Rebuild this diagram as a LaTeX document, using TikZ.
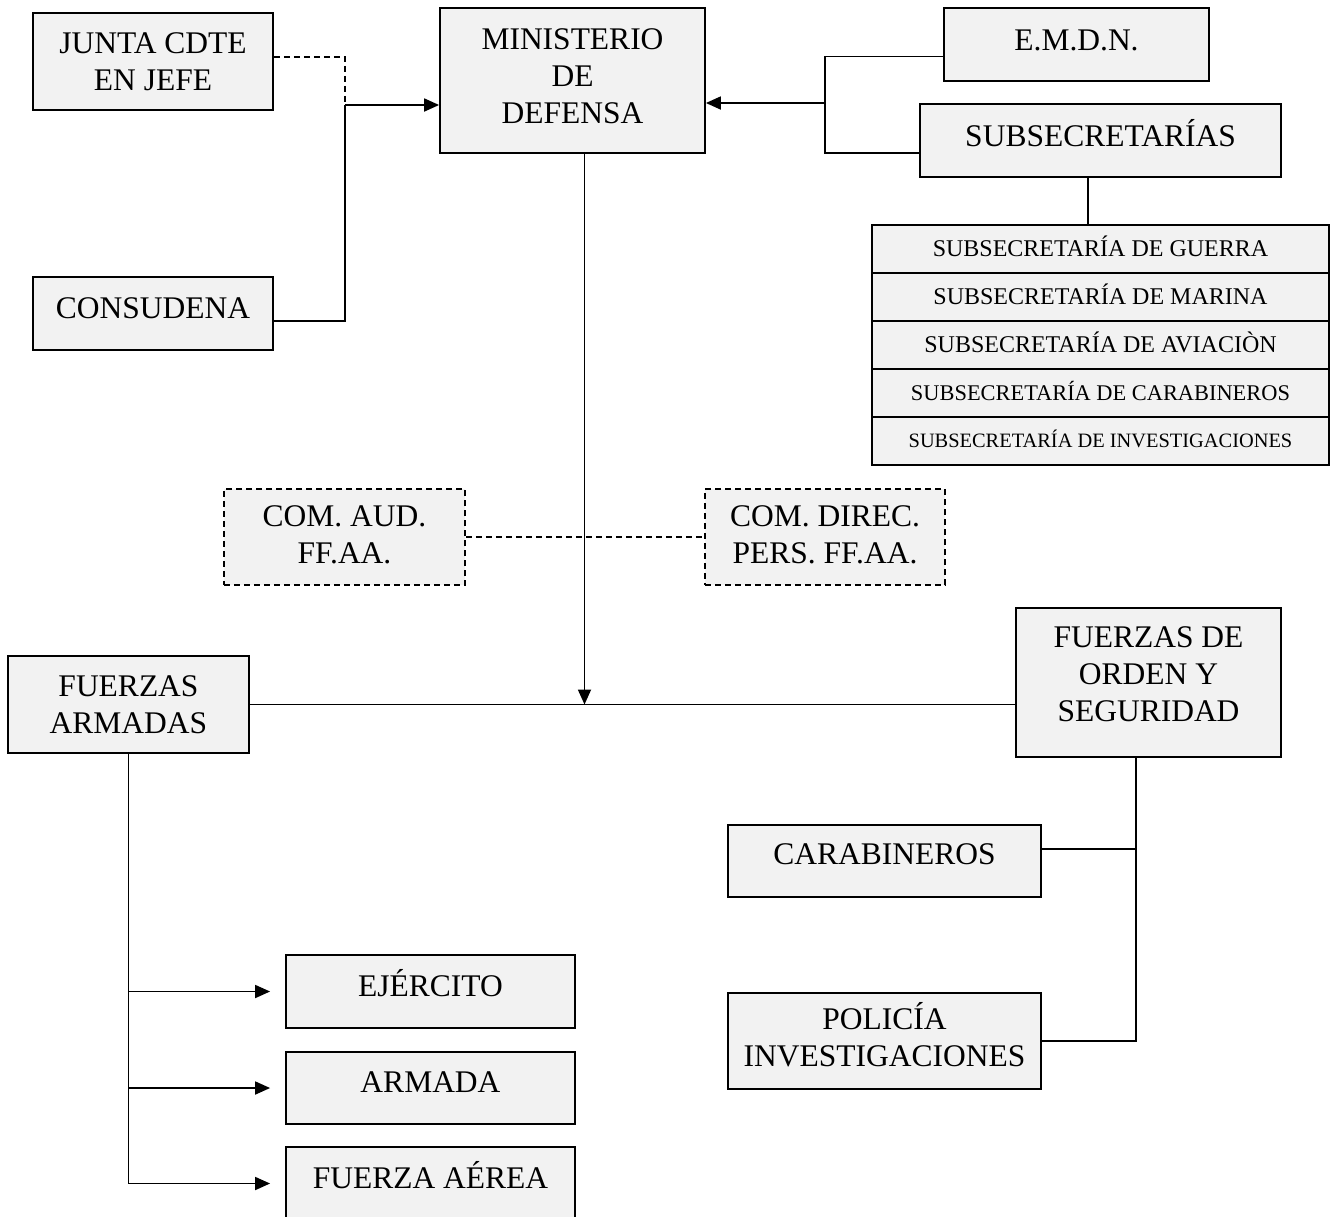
\documentclass[tikz,border=0pt]{standalone}
\usepackage{fontspec}
\setmainfont{Liberation Serif}
\usetikzlibrary{arrows.meta}
\definecolor{boxgray}{HTML}{F2F2F2}
\begin{document}
\begin{tikzpicture}[x=1pt,y=-1pt,
  box/.style={draw, line width=1.8pt, fill=boxgray, inner sep=0pt, rectangle},
  dbox/.style={box, line width=1.5pt, dash pattern=on 6pt off 4pt},
  rowbox/.style={box, minimum width=457pt, minimum height=48pt},
  lbl/.style={font=\fontsize{31.5}{37}\selectfont, align=center, inner sep=0pt},
  lblone/.style={lbl, text height=21pt, text depth=0pt},
  rowlbl/.style={inner sep=0pt, text depth=0pt},
  conn/.style={line width=1.8pt},
  dline/.style={line width=1.5pt, dash pattern=on 6pt off 4pt},
  arr/.style={conn, -{Triangle[length=15pt,width=13pt]}}
]
\useasboundingbox (0,0) rectangle (1336,1216);

% boxes
\node[box, minimum width=240pt, minimum height=97pt,
  label={[lbl]center:{JUNTA CDTE\\EN JEFE}}] (junta) at (153,61.5) {};
\node[box, minimum width=240pt, minimum height=73pt,
  label={[lblone, yshift=6]center:{CONSUDENA}}] (consudena) at (153,313.5) {};
\node[box, minimum width=265pt, minimum height=145pt,
  label={[lbl, yshift=4.5]center:{MINISTERIO\\DE\\DEFENSA}}] (ministerio) at (572.5,80.5) {};
\node[box, minimum width=265pt, minimum height=73pt,
  label={[lblone, yshift=4.5]center:{E.M.D.N.}}] (emdn) at (1076.5,44.5) {};
\node[box, minimum width=361pt, minimum height=73pt,
  label={[lblone, yshift=4.5]center:{SUBSECRETARÍAS}}] (subs) at (1100.5,140.5) {};

\node[rowbox, label={[rowlbl, font=\fontsize{24}{28}\selectfont, text height=15.9pt]center:{SUBSECRETARÍA DE GUERRA}}] (row1) at (1100.5,249) {};
\node[rowbox, label={[rowlbl, font=\fontsize{24}{28}\selectfont, text height=15.9pt]center:{SUBSECRETARÍA DE MARINA}}] (row2) at (1100.5,297) {};
\node[rowbox, label={[rowlbl, font=\fontsize{24}{28}\selectfont, text height=15.9pt]center:{SUBSECRETARÍA DE AVIACIÒN}}] (row3) at (1100.5,345) {};
\node[rowbox, label={[rowlbl, font=\fontsize{22.4}{26}\selectfont, text height=14.8pt]center:{SUBSECRETARÍA DE CARABINEROS}}] (row4) at (1100.5,393) {};
\node[rowbox, label={[rowlbl, font=\fontsize{20.4}{24}\selectfont, text height=13.5pt]center:{SUBSECRETARÍA DE INVESTIGACIONES}}] (row5) at (1100.5,441) {};

\node[dbox, minimum width=241pt, minimum height=96pt,
  label={[lbl, yshift=2.5]center:{COM. AUD.\\FF.AA.}}] (comaud) at (344.5,537) {};
\node[dbox, minimum width=240pt, minimum height=96pt,
  label={[lbl, yshift=2.5]center:{COM. DIREC.\\PERS. FF.AA.}}] (comdir) at (825,537) {};

\node[box, minimum width=241pt, minimum height=97pt,
  label={[lbl]center:{FUERZAS\\ARMADAS}}] (fa) at (128.5,704.5) {};
\node[box, minimum width=265pt, minimum height=149pt,
  label={[lbl, yshift=8]center:{FUERZAS DE\\ORDEN Y\\SEGURIDAD}}] (fos) at (1148.5,682.5) {};

\node[box, minimum width=289pt, minimum height=73pt,
  label={[lblone, yshift=6]center:{EJÉRCITO}}] (ejer) at (430.5,991.5) {};
\node[box, minimum width=289pt, minimum height=72pt,
  label={[lblone, yshift=6]center:{ARMADA}}] (armada) at (430.5,1088) {};
\node[box, minimum width=289pt, minimum height=73pt,
  label={[lblone, yshift=6]center:{FUERZA AÉREA}}] (faerea) at (430.5,1183.5) {};

\node[box, minimum width=313pt, minimum height=72pt,
  label={[lblone, yshift=7]center:{CARABINEROS}}] (carab) at (884.5,861) {};
\node[box, minimum width=313pt, minimum height=96pt,
  label={[lbl, yshift=6.5]center:{POLICÍA\\INVESTIGACIONES}}] (policia) at (884.5,1041) {};

% left connectors into the ministry
\coordinate (lj) at (345,105);
\draw[dline] ([yshift=4.5]junta.east) -| (lj);
\draw[conn] ([yshift=-7.5]consudena.east) -| (lj);
\draw[arr] (lj) -- (lj -| ministerio.west);

% right connectors into the ministry
\coordinate (rj) at (825,103);
\draw[conn] ([yshift=-12]emdn.west) -| (rj);
\draw[conn] ([yshift=-12.5]subs.west) -| (rj);
\draw[arr] (rj) -- (rj -| ministerio.east);

% subsecretarias list
\draw[conn] ([xshift=-12.5]subs.south) -- ([xshift=-12.5]row1.north);

% dashed link between commissions
\draw[dline] (comaud.east) -- (comdir.west);

% main vertical and horizontal
\coordinate (mv) at ([xshift=12]ministerio.south);
\draw[conn] (fa.east) -- (fa.east -| fos.west);
\draw[arr] (mv) -- (mv |- fa.east);

% armed forces branches
\draw[conn] (fa.south) -- (fa.south |- faerea.west);
\draw[arr] (fa.south |- ejer.west) -- ([xshift=-15]ejer.west);
\draw[arr] (fa.south |- armada.west) -- ([xshift=-15]armada.west);
\draw[arr] (fa.south |- faerea.west) -- ([xshift=-15]faerea.west);

% order and security branches
\coordinate (fosv) at ([xshift=-12.5]fos.south);
\draw[conn] (fosv) |- (policia.east);
\draw[conn] ([yshift=12]carab.east) -- ([yshift=12]carab.east -| fosv);
\end{tikzpicture}
\end{document}
